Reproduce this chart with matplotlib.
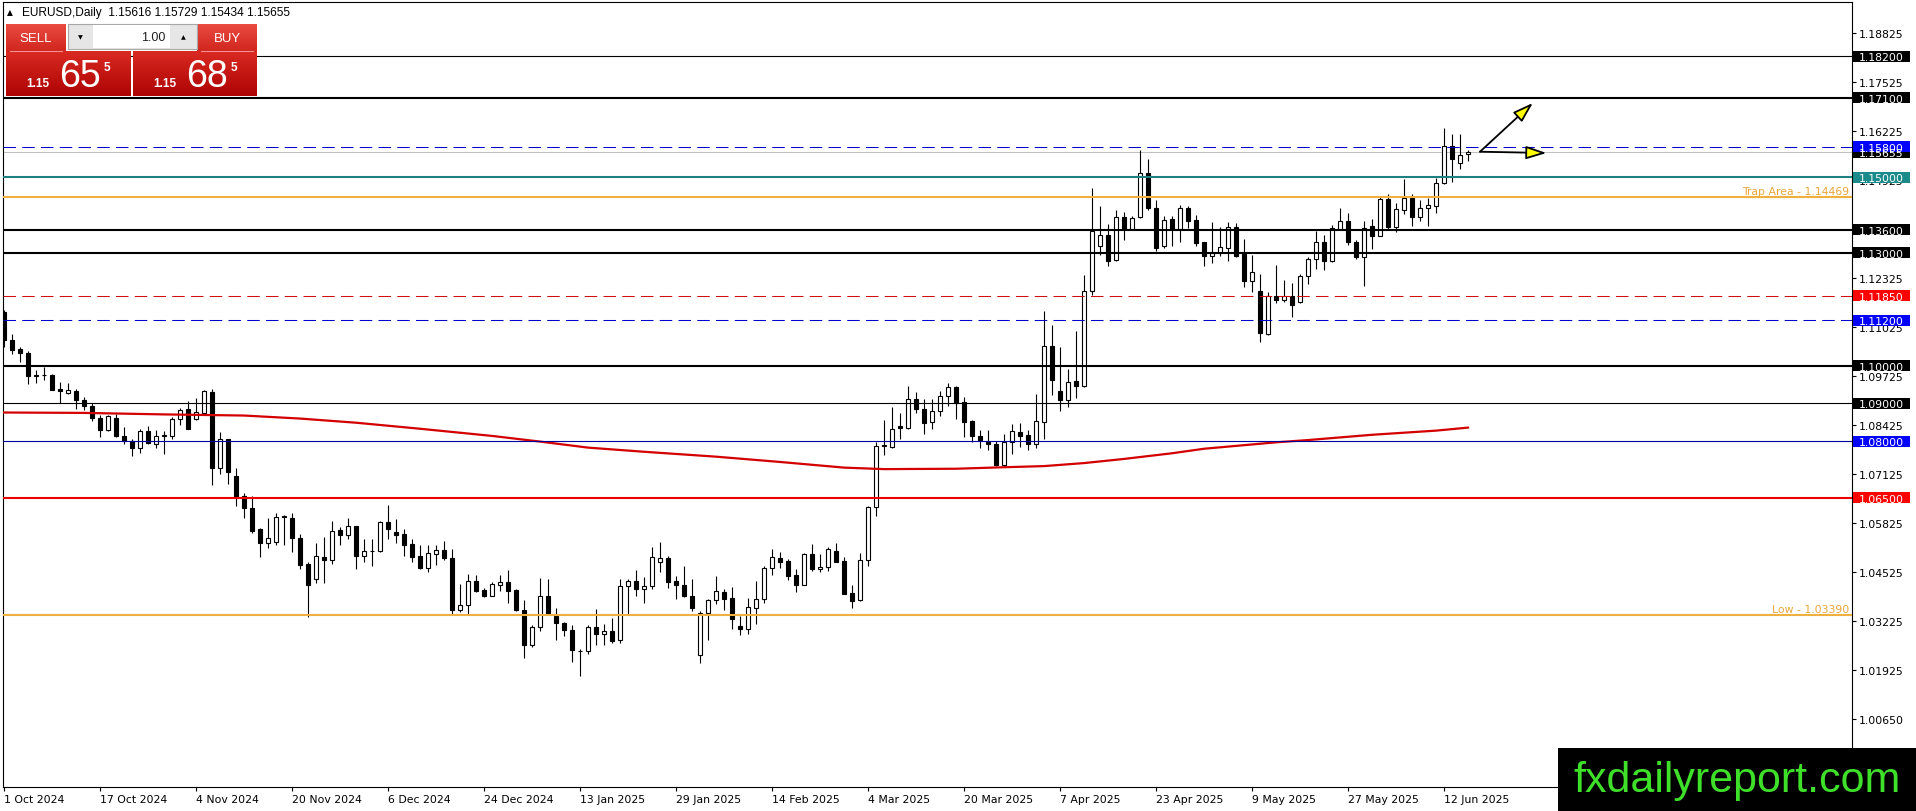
import matplotlib
matplotlib.use("Agg")
import matplotlib.pyplot as plt
import numpy as np
import pandas as pd
from matplotlib.patches import Rectangle
from matplotlib.colors import LinearSegmentedColormap
from matplotlib.transforms import blended_transform_factory

W, H = 1916, 812

# ---- data ----
dates = pd.bdate_range("2024-10-01", "2025-06-17")
dates = dates[~dates.isin(pd.to_datetime(["2024-12-25", "2025-01-01"]))]

opens = [
    1.1142, 1.1067, 1.1045, 1.1034, 1.0975, 1.0976, 1.0976, 1.0939, 1.0929, 1.0934,
    1.0910, 1.0893, 1.0862, 1.0829, 1.0862, 1.0815, 1.0800, 1.0782, 1.0827, 1.0792,
    1.0815, 1.0814, 1.0858, 1.0884, 1.0858, 1.0876, 1.0930, 1.0729, 1.0805, 1.0708,
    1.0655, 1.0624, 1.0567, 1.0531, 1.0532, 1.0602, 1.0597, 1.0543, 1.0475, 1.0434,
    1.0493, 1.0486, 1.0565, 1.0552, 1.0574, 1.0497, 1.0508, 1.0508, 1.0585, 1.0559,
    1.0554, 1.0528, 1.0497, 1.0464, 1.0500, 1.0511, 1.0490, 1.0352, 1.0365, 1.0429,
    1.0406, 1.0391, 1.0418, 1.0428, 1.0406, 1.0353, 1.0259, 1.0307, 1.0389, 1.0338,
    1.0319, 1.0300, 1.0244, 1.0244, 1.0307, 1.0289, 1.0297, 1.0272, 1.0416, 1.0429,
    1.0407, 1.0416, 1.0479, 1.0490, 1.0429, 1.0419, 1.0389, 1.0233, 1.0345, 1.0378,
    1.0400, 1.0384, 1.0310, 1.0303, 1.0359, 1.0381, 1.0463, 1.0490, 1.0482, 1.0446,
    1.0420, 1.0501, 1.0460, 1.0466, 1.0510, 1.0482, 1.0397, 1.0378, 1.0485, 1.0625,
    1.0791, 1.0785, 1.0840, 1.0835, 1.0912, 1.0886, 1.0851, 1.0880, 1.0921, 1.0943,
    1.0904, 1.0853, 1.0813, 1.0800, 1.0793, 1.0736, 1.0798, 1.0824, 1.0817, 1.0792,
    1.0851, 1.1051, 1.0932, 1.0910, 1.0959, 1.0947, 1.1199, 1.1316, 1.1346, 1.1280,
    1.1394, 1.1362, 1.1394, 1.1511, 1.1419, 1.1316, 1.1389, 1.1362, 1.1417, 1.1386,
    1.1327, 1.1290, 1.1298, 1.1311, 1.1367, 1.1296, 1.1224, 1.1197, 1.1083, 1.1184,
    1.1173, 1.1186, 1.1168, 1.1239, 1.1282, 1.1327, 1.1278, 1.1362, 1.1384, 1.1329,
    1.1289, 1.1369, 1.1344, 1.1441, 1.1368, 1.1413, 1.1444, 1.1393, 1.1419, 1.1424,
    1.1484, 1.1582, 1.1538, 1.15616,
]
highs = [
    1.1147, 1.1085, 1.1049, 1.1038, 1.0988, 1.0996, 1.0979, 1.0958, 1.0955, 1.0939,
    1.0917, 1.0900, 1.0869, 1.0869, 1.0873, 1.0838, 1.0807, 1.0831, 1.0840, 1.0829,
    1.0826, 1.0864, 1.0889, 1.0907, 1.0915, 1.0937, 1.0939, 1.0825, 1.0807, 1.0729,
    1.0664, 1.0655, 1.0569, 1.0596, 1.0609, 1.0604, 1.0611, 1.0554, 1.0479, 1.0530,
    1.0545, 1.0588, 1.0572, 1.0596, 1.0576, 1.0541, 1.0541, 1.0588, 1.0631, 1.0594,
    1.0567, 1.0541, 1.0526, 1.0526, 1.0526, 1.0535, 1.0515, 1.0422, 1.0448, 1.0446,
    1.0411, 1.0428, 1.0446, 1.0459, 1.0407, 1.0378, 1.0312, 1.0438, 1.0435, 1.0359,
    1.0322, 1.0312, 1.0250, 1.0312, 1.0356, 1.0316, 1.0332, 1.0435, 1.0435, 1.0459,
    1.0440, 1.0519, 1.0534, 1.0497, 1.0444, 1.0470, 1.0435, 1.0350, 1.0382, 1.0442,
    1.0407, 1.0413, 1.0338, 1.0384, 1.0429, 1.0468, 1.0515, 1.0506, 1.0488, 1.0462,
    1.0504, 1.0528, 1.0501, 1.0519, 1.0530, 1.0493, 1.0419, 1.0504, 1.0627, 1.0799,
    1.0855, 1.0890, 1.0875, 1.0946, 1.0930, 1.0912, 1.0912, 1.0932, 1.0955, 1.0947,
    1.0918, 1.0855, 1.0829, 1.0829, 1.0800, 1.0820, 1.0846, 1.0849, 1.0829, 1.0925,
    1.1146, 1.1108, 1.1049, 1.0992, 1.1093, 1.1240, 1.1472, 1.1423, 1.1375, 1.1412,
    1.1408, 1.1397, 1.1573, 1.1547, 1.1438, 1.1397, 1.1397, 1.1425, 1.1424, 1.1399,
    1.1329, 1.1380, 1.1367, 1.1380, 1.1378, 1.1336, 1.1294, 1.1243, 1.1195, 1.1267,
    1.1226, 1.1219, 1.1243, 1.1287, 1.1358, 1.1346, 1.1374, 1.1417, 1.1406, 1.1334,
    1.1384, 1.1388, 1.1446, 1.1455, 1.1432, 1.1494, 1.1456, 1.1439, 1.1444, 1.1497,
    1.1631, 1.1613, 1.1613, 1.15729,
]
lows = [
    1.1050, 1.1032, 1.1010, 1.0951, 1.0954, 1.0961, 1.0935, 1.0900, 1.0926, 1.0886,
    1.0882, 1.0853, 1.0811, 1.0826, 1.0811, 1.0792, 1.0760, 1.0770, 1.0792, 1.0781,
    1.0767, 1.0807, 1.0844, 1.0832, 1.0855, 1.0873, 1.0684, 1.0712, 1.0686, 1.0629,
    1.0596, 1.0556, 1.0494, 1.0516, 1.0525, 1.0525, 1.0507, 1.0462, 1.0334, 1.0425,
    1.0425, 1.0475, 1.0526, 1.0541, 1.0460, 1.0481, 1.0470, 1.0506, 1.0541, 1.0530,
    1.0497, 1.0479, 1.0462, 1.0453, 1.0473, 1.0484, 1.0343, 1.0347, 1.0343, 1.0400,
    1.0387, 1.0389, 1.0404, 1.0371, 1.0350, 1.0226, 1.0255, 1.0297, 1.0340, 1.0272,
    1.0284, 1.0215, 1.0178, 1.0237, 1.0259, 1.0261, 1.0264, 1.0264, 1.0343, 1.0391,
    1.0372, 1.0409, 1.0453, 1.0411, 1.0381, 1.0387, 1.0349, 1.0211, 1.0272, 1.0369,
    1.0352, 1.0303, 1.0286, 1.0290, 1.0316, 1.0372, 1.0446, 1.0463, 1.0433, 1.0400,
    1.0418, 1.0457, 1.0453, 1.0455, 1.0479, 1.0394, 1.0359, 1.0376, 1.0470, 1.0601,
    1.0764, 1.0782, 1.0805, 1.0833, 1.0875, 1.0820, 1.0831, 1.0868, 1.0893, 1.0859,
    1.0811, 1.0798, 1.0782, 1.0776, 1.0734, 1.0732, 1.0765, 1.0785, 1.0777, 1.0782,
    1.0807, 1.0923, 1.0881, 1.0890, 1.0914, 1.0943, 1.1188, 1.1293, 1.1263, 1.1278,
    1.1333, 1.1360, 1.1391, 1.1414, 1.1304, 1.1313, 1.1316, 1.1329, 1.1366, 1.1316,
    1.1265, 1.1272, 1.1292, 1.1278, 1.1287, 1.1208, 1.1196, 1.1064, 1.1082, 1.1166,
    1.1168, 1.1130, 1.1166, 1.1217, 1.1256, 1.1255, 1.1276, 1.1360, 1.1321, 1.1283,
    1.1210, 1.1309, 1.1343, 1.1362, 1.1355, 1.1402, 1.1371, 1.1384, 1.1371, 1.1404,
    1.1481, 1.1487, 1.1521, 1.15434,
]
closes = [
    1.1067, 1.1043, 1.1033, 1.0974, 1.0974, 1.0975, 1.0937, 1.0932, 1.0937, 1.0908,
    1.0893, 1.0862, 1.0829, 1.0867, 1.0813, 1.0801, 1.0782, 1.0827, 1.0796, 1.0814,
    1.0816, 1.0860, 1.0882, 1.0833, 1.0878, 1.0934, 1.0728, 1.0805, 1.0719, 1.0653,
    1.0624, 1.0562, 1.0531, 1.0543, 1.0600, 1.0598, 1.0544, 1.0473, 1.0420, 1.0495,
    1.0486, 1.0563, 1.0552, 1.0576, 1.0497, 1.0508, 1.0509, 1.0585, 1.0566, 1.0552,
    1.0526, 1.0494, 1.0464, 1.0503, 1.0511, 1.0490, 1.0352, 1.0365, 1.0429, 1.0404,
    1.0391, 1.0422, 1.0428, 1.0404, 1.0352, 1.0259, 1.0307, 1.0389, 1.0343, 1.0318,
    1.0299, 1.0246, 1.0245, 1.0307, 1.0288, 1.0297, 1.0271, 1.0416, 1.0429, 1.0407,
    1.0416, 1.0493, 1.0490, 1.0428, 1.0420, 1.0389, 1.0359, 1.0345, 1.0378, 1.0403,
    1.0381, 1.0328, 1.0303, 1.0360, 1.0381, 1.0463, 1.0493, 1.0481, 1.0444, 1.0420,
    1.0501, 1.0460, 1.0466, 1.0514, 1.0481, 1.0396, 1.0376, 1.0484, 1.0625, 1.0788,
    1.0786, 1.0833, 1.0835, 1.0912, 1.0884, 1.0849, 1.0880, 1.0921, 1.0943, 1.0902,
    1.0852, 1.0815, 1.0802, 1.0792, 1.0736, 1.0798, 1.0826, 1.0815, 1.0792, 1.0853,
    1.1051, 1.0961, 1.0908, 1.0956, 1.0947, 1.1199, 1.1357, 1.1346, 1.1278, 1.1394,
    1.1362, 1.1392, 1.1511, 1.1417, 1.1313, 1.1386, 1.1362, 1.1417, 1.1384, 1.1325,
    1.1290, 1.1298, 1.1314, 1.1367, 1.1292, 1.1224, 1.1248, 1.1086, 1.1184, 1.1173,
    1.1184, 1.1162, 1.1239, 1.1283, 1.1327, 1.1278, 1.1364, 1.1384, 1.1329, 1.1289,
    1.1366, 1.1344, 1.1441, 1.1368, 1.1415, 1.1444, 1.1393, 1.1419, 1.1425, 1.1485,
    1.1582, 1.1549, 1.1558, 1.15655,
]

# moving average, read at these bars
ma_bars = [0, 10, 20, 30, 37, 44, 52, 61, 67, 73, 80, 89, 97, 105, 110, 119, 125,
           130, 135, 140, 146, 150, 159, 163, 171, 179, 183]
ma_vals = [1.0876, 1.0875, 1.0871, 1.0868, 1.0860, 1.0849, 1.0833, 1.0814, 1.0799,
           1.0783, 1.0772, 1.0759, 1.0745, 1.0730, 1.0726, 1.0727, 1.0731, 1.0734,
           1.0742, 1.0753, 1.0768, 1.0780, 1.0797, 1.0803, 1.0817, 1.0828, 1.0836]

level_prices = [1.18200, 1.17100, 1.15800, 1.15000, 1.14469, 1.13600, 1.13000,
                1.11850, 1.11200, 1.10000, 1.09000, 1.08000, 1.06500, 1.03390]
level_styles = [("#000000", 0.8, "-"), ("#000000", 1.5, "-"), ("#0000cc", 0.75, "--"),
                ("#1f8080", 1.5, "-"), ("#f0b040", 1.5, "-"), ("#000000", 1.5, "-"),
                ("#000000", 1.5, "-"), ("#d01010", 0.75, "--"), ("#0000cc", 0.75, "--"),
                ("#000000", 1.5, "-"), ("#000000", 0.8, "-"), ("#0000a0", 0.8, "-"),
                ("#ee0000", 1.5, "-"), ("#f0b040", 1.5, "-")]
current_price = 1.15655

tag_prices = [1.18200, 1.17100, 1.15655, 1.15800, 1.15000, 1.13600, 1.13000,
              1.11850, 1.11200, 1.10000, 1.09000, 1.08000, 1.06500]
tag_colors = ["#000000", "#000000", "#000000", "#0000ff", "#1a8a8a", "#000000",
              "#000000", "#ff0000", "#0000ff", "#000000", "#000000", "#0000ff", "#ff0000"]

price_ticks = [1.18825, 1.17525, 1.16225, 1.14925, 1.13625, 1.12325, 1.11025,
               1.09725, 1.08425, 1.07125, 1.05825, 1.04525, 1.03225, 1.01925, 1.00650]

trap_price, low_price = 1.14469, 1.03390
arrow_start = (184.5, 1.15672)
arrow_up_end = (191.1, 1.16962)
arrow_flat_end = (192.8, 1.15637)

YMIN, YMAX = 0.98836, 1.19639
XMIN, XMAX = -0.125, 231

# ---- figure ----
fig = plt.figure(figsize=(W / 100, H / 100), dpi=100)
fig.patch.set_facecolor("white")
ax = fig.add_axes([3 / W, (H - 788) / H, (1852 - 3) / W, (788 - 3) / H])
ax.set_xlim(XMIN, XMAX)
ax.set_ylim(YMIN, YMAX)
for s in ax.spines.values():
    s.set_linewidth(0.8)
    s.set_color("black")

o, h, l, c = map(np.array, (opens, highs, lows, closes))
x = np.arange(len(o))
up = c >= o
ax.vlines(x, l, h, color="black", lw=0.8, zorder=3)
ax.bar(x[up], (c - o)[up], bottom=o[up], width=0.55, facecolor="white",
       edgecolor="black", lw=0.8, zorder=4)
ax.bar(x[~up], (c - o)[~up], bottom=o[~up], width=0.55, facecolor="black",
       edgecolor="black", lw=0.8, zorder=4)

ax.axhline(current_price, color="#c0c0c0", lw=0.75, zorder=2)
for p, (col, lw, ls) in zip(level_prices, level_styles):
    line = ax.axhline(p, color=col, lw=lw, zorder=6)
    if ls == "--":
        line.set_dashes((12, 6))

ax.plot(ma_bars, ma_vals, color="#d40000", lw=1.6, zorder=5)

trans = blended_transform_factory(ax.transAxes, ax.transData)
ax.text(0.9985, trap_price + 0.0004, f"Trap Area - {trap_price:.5f}", transform=trans,
        ha="right", va="bottom", fontsize=7.8, color="#eaa63a", zorder=7)
ax.text(0.9985, low_price + 0.0004, f"Low - {low_price:.5f}", transform=trans,
        ha="right", va="bottom", fontsize=7.8, color="#eaa63a", zorder=7)

for end in (arrow_up_end, arrow_flat_end):
    ax.annotate("", xy=end, xytext=arrow_start,
                arrowprops=dict(arrowstyle="-|>,head_length=0.62,head_width=0.2",
                                mutation_scale=20, fc="#ffff00", ec="black", lw=1.3,
                                shrinkA=0, shrinkB=0), zorder=8)

ax.yaxis.tick_right()
ax.set_yticks(price_ticks, [f"{v:.5f}" for v in price_ticks])
ax.tick_params(axis="y", length=3, width=0.8, pad=2, labelsize=7.8, direction="out")
xt = list(range(0, len(dates), 12))
ax.set_xticks(xt, [f"{dates[i].day} {dates[i]:%b %Y}" for i in xt], ha="left")
ax.tick_params(axis="x", length=3, width=0.8, pad=2, labelsize=7.8, direction="out")

# price tags on the right scale
ax_r = fig.add_axes([1852 / W, (H - 788) / H, (W - 1852) / W, (788 - 3) / H], zorder=5)
ax_r.set_xlim(1852, W)
ax_r.set_ylim(YMIN, YMAX)
ax_r.axis("off")
px = (YMAX - YMIN) / 785
for p, col in zip(tag_prices, tag_colors):
    ax_r.add_patch(Rectangle((1853, p - 5.5 * px), 57, 11 * px, fc=col, ec="none"))
    ax_r.text(1859, p, f"{p:.5f}", color="white", fontsize=7.8,
              ha="left", va="center_baseline")

# pixel overlay: header, trade panel, watermark
ov = fig.add_axes([0, 0, 1, 1], zorder=10)
ov.axis("off")


def grad_box(x0, y0, x1, y1, top, bottom):
    cmap = LinearSegmentedColormap.from_list("g", [top, bottom])
    ov.imshow(np.linspace(0, 1, 64).reshape(-1, 1), extent=(x0, x1, y1, y0),
              cmap=cmap, aspect="auto", zorder=2, interpolation="bilinear")


ov.text(10, 13, "\u25b2", fontsize=5.5, ha="center", va="center", color="black")
ov.text(22, 13, "EURUSD,Daily  1.15616 1.15729 1.15434 1.15655", fontsize=8.6,
        family="Liberation Sans", va="center", color="black")

grad_box(6, 25, 66, 52, "#ea4c42", "#d0261e")
grad_box(197, 25, 257, 52, "#ea4c42", "#d0261e")
grad_box(6, 52, 131, 97, "#d92a22", "#ae0404")
grad_box(133, 52, 257, 97, "#d92a22", "#ae0404")
ov.plot([10, 62], [52, 52], color="#f29090", lw=0.8, zorder=3)
ov.plot([201, 253], [52, 52], color="#f29090", lw=0.8, zorder=3)
ov.add_patch(Rectangle((68, 25), 129, 25, fc="#e6e6e6", ec="#a8a8a8", lw=0.8, zorder=2))
ov.add_patch(Rectangle((93, 26), 77, 23, fc="white", ec="none", zorder=3))
ov.text(80.5, 38, "\u25bc", fontsize=4.5, ha="center", va="center", zorder=4)
ov.text(183.5, 37.5, "\u25b2", fontsize=4.5, ha="center", va="center", zorder=4)
ov.text(165, 38, "1.00", fontsize=9, ha="right", va="center", color="#202020",
        family="Liberation Sans", zorder=4)
ov.text(36, 39, "SELL", fontsize=9.5, ha="center", va="center", color="white",
        family="Liberation Sans", zorder=4)
ov.text(227, 39, "BUY", fontsize=9.5, ha="center", va="center", color="white",
        family="Liberation Sans", zorder=4)
for x0, big in ((26, "65"), (153, "68")):
    ov.text(x0, 87, "1.15", fontsize=8.5, fontweight="bold", color="white",
            family="Liberation Sans", va="baseline", zorder=4)
    ov.text(x0 + 33, 87, big, fontsize=27, color="white",
            family="Liberation Sans", va="baseline", zorder=4)
    ov.text(x0 + 78, 71, "5", fontsize=8.5, fontweight="bold", color="white",
            family="Liberation Sans", va="baseline", zorder=4)

ov.add_patch(Rectangle((1558, 749), 358, 63, fc="black", ec="none", zorder=2))
ov.text(1737, 781, "fxdailyreport.com", fontsize=31, color="#3ee02a",
        family="Liberation Sans", ha="center", va="center", zorder=3)
ov.set_xlim(0, W)
ov.set_ylim(H, 0)

fig.savefig("out.png", dpi=100)
